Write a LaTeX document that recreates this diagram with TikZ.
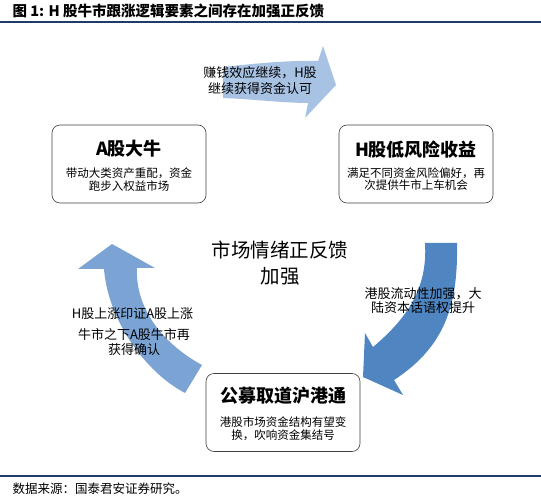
\documentclass[tikz,border=0pt]{standalone}
\usepackage{fontspec}
\setmainfont{Noto Sans CJK SC}
\definecolor{navyline}{HTML}{1F3A6B}
\definecolor{topblue}{HTML}{A7C2E3}
\definecolor{leftblue}{HTML}{7BA3D3}
\definecolor{rightblue}{HTML}{4F86C1}
\begin{document}
\begin{tikzpicture}[x=1pt, y=-1pt,
    box/.style={draw=black!75, line width=0.6pt, rounded corners=8pt, minimum width=154pt, minimum height=78pt},
    boxhead/.style={font=\fontsize{18}{20}\selectfont\bfseries},
    boxtext/.style={font=\fontsize{11.5}{12.5}\selectfont, align=center},
    lbl/.style={font=\fontsize{13}{15}\selectfont, align=center},
    rule/.style={draw=navyline, line width=1.6pt}]
  \useasboundingbox (0,0) rectangle (541,497);
  \node[anchor=west, font=\fontsize{14.5}{16}\selectfont\bfseries] (title) at (9,11) {图 1: H 股牛市跟涨逻辑要素之间存在加强正反馈};
  \draw[rule] (0,22) -- (541,22);
  \fill[topblue] (223,67) .. controls (250,64) and (290,60) .. (318,61) -- (323,46) -- (336,85)
    -- (305,118) -- (308,103) .. controls (285,103) and (250,99) .. (223,98) -- cycle;
  \fill[rightblue] (425,243) -- (457,243) .. controls (458,300) and (448,345) .. (394,380)
    -- (403,395) -- (363,377) -- (365,333) -- (373,347) .. controls (405,320) and (428,290) .. (425,243) -- cycle;
  \fill[leftblue] (104,269) -- (78,269) -- (112,244) -- (155,268) -- (137,268)
    .. controls (135,310) and (165,345) .. (202,365) -- (185,393)
    .. controls (145,372) and (108,320) .. (104,269) -- cycle;
  \node[box] (abox) at (129,164) {};
  \node[boxhead] (ahead) at (129,149) {A股大牛};
  \node[boxtext] (atext) at (129,179.5) {带动大类资产重配，资金\\跑步入权益市场};
  \node[box] (hbox) at (416,164) {};
  \node[boxhead] (hhead) at (416,150) {H股低风险收益};
  \node[boxtext] (htext) at (416,179) {满足不同资金风险偏好，再\\次提供牛市上车机会};
  \node[box] (gbox) at (283,412.5) {};
  \node[boxhead] (ghead) at (283,396) {公募取道沪港通};
  \node[boxtext] (gtext) at (283,428.5) {港股市场资金结构有望变\\换，吹响资金集结号};
  \node[font=\fontsize{19.5}{26}\selectfont, align=center] (core) at (280,263.5) {市场情绪正反馈\\加强};
  \node[lbl, font=\fontsize{13}{16}\selectfont] (toplbl) at (260,81) {赚钱效应继续，H股\\继续获得资金认可};
  \node[lbl, font=\fontsize{13}{14}\selectfont] (rightlbl) at (423,301) {港股流动性加强，大\\陆资本话语权提升};
  \node[lbl] (leftlbla) at (132.5,314) {H股上涨印证A股上涨};
  \node[lbl] (leftlblb) at (134,342.5) {牛市之下A股牛市再\\获得确认};
  \draw[rule] (0,476) -- (541,476);
  \node[anchor=west, font=\fontsize{12.5}{14}\selectfont] (source) at (9,489) {数据来源：国泰君安证券研究。};
\end{tikzpicture}
\end{document}
